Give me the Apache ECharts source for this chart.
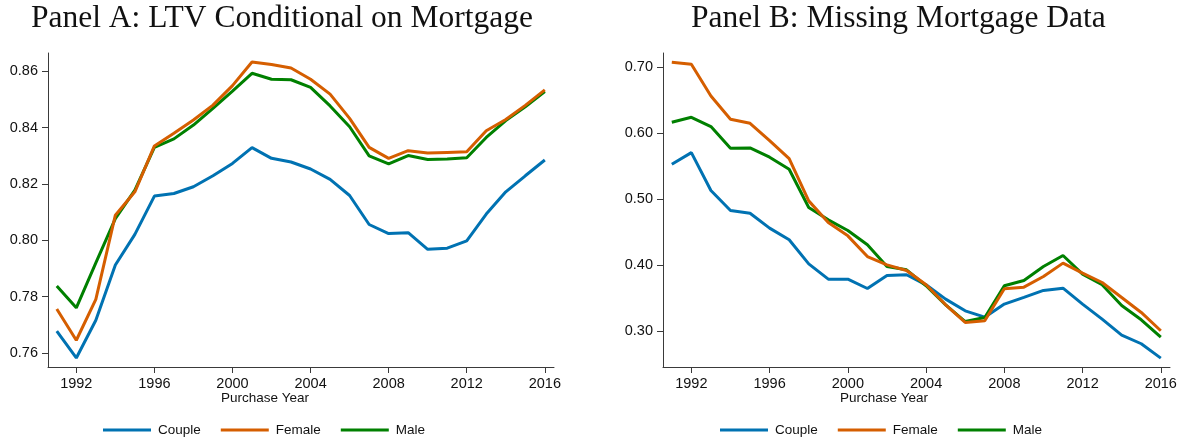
<!DOCTYPE html>
<html>
<head>
<meta charset="utf-8">
<script src="https://cdn.jsdelivr.net/npm/echarts@6/dist/echarts.min.js"></script>
<style>
  html, body { margin: 0; padding: 0; background: #fff; }
  #chart { width: 1184px; height: 442px; }
</style>
</head>
<body>
<div id="chart"></div>
<script>
const years = [1991, 1992, 1993, 1994, 1995, 1996, 1997, 1998, 1999, 2000, 2001, 2002, 2003,
    2004, 2005, 2006, 2007, 2008, 2009, 2010, 2011, 2012, 2013, 2014, 2015, 2016];
const yearTicks = [1992, 1996, 2000, 2004, 2008, 2012, 2016];

// Panel A: LTV conditional on mortgage
const ltvCouple = [0.7677, 0.7582, 0.7716, 0.7912, 0.8021, 0.8157, 0.8166, 0.8190, 0.8229, 0.8273, 0.8329, 0.8291, 0.8278,
    0.8253, 0.8216, 0.8159, 0.8056, 0.8024, 0.8027, 0.7968, 0.7972, 0.7998, 0.8093, 0.8172, 0.8229, 0.8285];
const ltvFemale = [0.7756, 0.7645, 0.7790, 0.8089, 0.8172, 0.8335, 0.8380, 0.8427, 0.8480, 0.8549, 0.8633, 0.8624, 0.8612,
    0.8572, 0.8519, 0.8433, 0.8330, 0.8291, 0.8318, 0.8310, 0.8312, 0.8314, 0.8389, 0.8429, 0.8479, 0.8534];
const ltvMale = [0.7838, 0.7760, 0.7920, 0.8077, 0.8178, 0.8330, 0.8360, 0.8409, 0.8468, 0.8530, 0.8593, 0.8572, 0.8570,
    0.8543, 0.8477, 0.8403, 0.8300, 0.8271, 0.8301, 0.8287, 0.8289, 0.8293, 0.8365, 0.8425, 0.8474, 0.8528];
const ltvTicks = [0.76, 0.78, 0.80, 0.82, 0.84, 0.86];

// Panel B: missing mortgage data
const missCouple = [0.5528, 0.5705, 0.5129, 0.4826, 0.4785, 0.4558, 0.4381, 0.4016, 0.3784, 0.3784, 0.3642, 0.3840, 0.3850,
    0.3698, 0.3480, 0.3303, 0.3207, 0.3405, 0.3506, 0.3612, 0.3647, 0.3405, 0.3177, 0.2934, 0.2803, 0.2585];
const missFemale = [0.7076, 0.7046, 0.6565, 0.6211, 0.6150, 0.5888, 0.5614, 0.4972, 0.4643, 0.4441, 0.4127, 0.4001, 0.3915,
    0.3698, 0.3394, 0.3127, 0.3152, 0.3637, 0.3662, 0.3824, 0.4027, 0.3875, 0.3733, 0.3506, 0.3278, 0.3000];
const missMale = [0.6166, 0.6241, 0.6100, 0.5771, 0.5776, 0.5635, 0.5453, 0.4871, 0.4684, 0.4522, 0.4305, 0.3976, 0.3925,
    0.3683, 0.3394, 0.3140, 0.3202, 0.3683, 0.3764, 0.3976, 0.4143, 0.3860, 0.3698, 0.3384, 0.3167, 0.2904];
const missTicks = [0.30, 0.40, 0.50, 0.60, 0.70];

const groups = ['Couple', 'Female', 'Male'];
const colors = ['#0072B2', '#D55E00', '#008000'];
const sans = '"Liberation Sans", Arial, sans-serif';
const axisColor = '#3a3a3a';

function pairs(vals) {
    return years.map((y, i) => [y, vals[i]]);
}

function xAxisFor(gridIndex) {
    return {
        type: 'value',
        gridIndex: gridIndex,
        min: 1990.55,
        max: 2016.47,
        splitLine: {show: false},
        axisLine: {show: true, lineStyle: {color: axisColor, width: 1}},
        axisTick: {show: true, length: 6, customValues: yearTicks, lineStyle: {color: axisColor}},
        axisLabel: {
            customValues: yearTicks,
            color: '#111',
            fontFamily: sans,
            fontSize: 14.5,
            margin: 9,
            formatter: v => String(v)
        }
    };
}

function yAxisFor(gridIndex, min, max, ticks) {
    return {
        type: 'value',
        gridIndex: gridIndex,
        min: min,
        max: max,
        splitLine: {show: false},
        axisLine: {show: true, lineStyle: {color: axisColor, width: 1}},
        axisTick: {show: true, length: 6, customValues: ticks, lineStyle: {color: axisColor}},
        axisLabel: {
            customValues: ticks,
            color: '#111',
            fontFamily: sans,
            fontSize: 14.5,
            margin: 10,
            formatter: v => v.toFixed(2)
        }
    };
}

const seriesList = [];
[[ltvCouple, ltvFemale, ltvMale], [missCouple, missFemale, missMale]].forEach(function (panel, gi) {
    panel.forEach(function (vals, k) {
        seriesList.push({
            type: 'line',
            name: groups[k],
            xAxisIndex: gi,
            yAxisIndex: gi,
            data: pairs(vals),
            symbol: 'none',
            color: colors[k],
            lineStyle: {width: 3, color: colors[k]},
            emphasis: {disabled: true},
            z: 2 + (k === 1 ? 1 : 0)
        });
    });
});

const legendBase = {
    data: groups.map(g => ({name: g, icon: 'rect'})),
    itemWidth: 48,
    itemHeight: 3,
    itemGap: 20,
    padding: 0,
    top: 423,
    textStyle: {fontFamily: sans, fontSize: 13.5, color: '#111', padding: [0, 0, 0, 2]}
};

const chart = echarts.init(document.getElementById('chart'), null, {renderer: 'canvas'});
const option = {
    animation: false,
    backgroundColor: '#fff',
    title: [
        {text: 'Panel A: LTV Conditional on Mortgage', left: 26, top: -2,
            textStyle: {fontFamily: '"Liberation Serif", serif', fontSize: 31.5, fontWeight: 'normal', color: '#111'}},
        {text: 'Panel B: Missing Mortgage Data', left: 686, top: -2,
            textStyle: {fontFamily: '"Liberation Serif", serif', fontSize: 31.5, fontWeight: 'normal', color: '#111'}}
    ],
    grid: [
        {left: 48, right: 630, top: 53, bottom: 75},
        {left: 663, right: 14, top: 53, bottom: 75}
    ],
    xAxis: [xAxisFor(0), xAxisFor(1)],
    yAxis: [yAxisFor(0, 0.755, 0.8665, ltvTicks), yAxisFor(1, 0.245, 0.7217, missTicks)],
    legend: [
        Object.assign({}, legendBase, {left: 103}),
        Object.assign({}, legendBase, {left: 720})
    ],
    graphic: [
        {type: 'text', left: 221, top: 391,
            style: {text: 'Purchase Year', fontFamily: sans, fontSize: 13.5, fill: '#111'}},
        {type: 'text', left: 840, top: 391,
            style: {text: 'Purchase Year', fontFamily: sans, fontSize: 13.5, fill: '#111'}}
    ],
    series: seriesList
};
chart.setOption(option);
</script>
</body>
</html>
